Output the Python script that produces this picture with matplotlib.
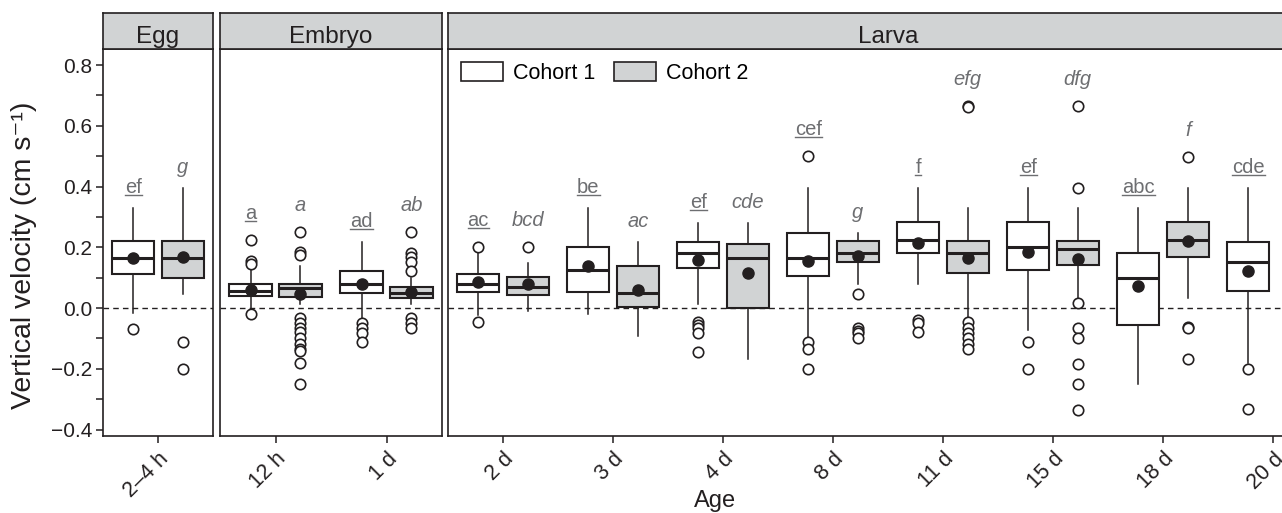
"""
Vertical velocity by age and cohort (boxplots per stage panel)
"""
import matplotlib
matplotlib.use('Agg')
import matplotlib.pyplot as plt
from matplotlib.patches import Patch
from matplotlib.lines import Line2D

plt.rcParams['font.family'] = ['Liberation Sans', 'DejaVu Sans']

# ---- data ----
ages = ['2–4 h', '12 h', '1 d', '2 d', '3 d', '4 d', '8 d', '11 d', '15 d', '18 d', '20 d']
stages = ['Egg', 'Embryo', 'Larva']
stage_counts = [1, 2, 8]

# cohort 1
c1_q1 = [0.111, 0.040, 0.050, 0.052, 0.053, 0.131, 0.106, 0.180, 0.127, -0.056, 0.056]
c1_med = [0.166, 0.057, 0.081, 0.081, 0.124, 0.182, 0.166, 0.224, 0.200, 0.098, 0.152]
c1_q3 = [0.222, 0.081, 0.122, 0.111, 0.200, 0.218, 0.248, 0.284, 0.284, 0.180, 0.218]
c1_lo = [-0.017, 0.000, -0.033, -0.023, -0.020, 0.015, -0.100, 0.079, -0.072, -0.250, -0.182]
c1_hi = [0.331, 0.130, 0.218, 0.180, 0.328, 0.281, 0.397, 0.397, 0.397, 0.328, 0.397]
c1_mean = [0.164, 0.059, 0.081, 0.087, 0.138, 0.158, 0.156, 0.215, 0.185, 0.073, 0.122]
c1_out = [[-0.070],
          [0.224, 0.156, 0.145, -0.020],
          [-0.050, -0.067, -0.083, -0.110],
          [0.200, -0.047],
          [],
          [-0.045, -0.056, -0.066, -0.083, -0.144],
          [0.500, -0.111, -0.133, -0.200],
          [-0.040, -0.050, -0.078],
          [-0.111, -0.200],
          [],
          [-0.200, -0.333]]
c1_letters = ['ef', 'a', 'ad', 'ac', 'be', 'ef', 'cef', 'f', 'ef', 'abc', 'cde']

# cohort 2 (no 20 d box)
c2_q1 = [0.098, 0.035, 0.032, 0.042, 0.004, 0.000, 0.152, 0.116, 0.142, 0.167, None]
c2_med = [0.166, 0.067, 0.050, 0.068, 0.050, 0.166, 0.182, 0.182, 0.196, 0.224, None]
c2_q3 = [0.222, 0.081, 0.068, 0.103, 0.137, 0.210, 0.220, 0.220, 0.220, 0.284, None]
c2_lo = [0.045, 0.015, 0.015, -0.010, -0.092, -0.166, 0.079, -0.033, 0.032, 0.032, None]
c2_hi = [0.397, 0.140, 0.100, 0.150, 0.218, 0.281, 0.246, 0.331, 0.328, 0.397, None]
c2_mean = [0.169, 0.046, 0.054, 0.078, 0.059, 0.114, 0.171, 0.166, 0.161, 0.222, None]
c2_out = [[-0.113, -0.200],
          [0.249, 0.184, 0.176, -0.034, -0.050, -0.067, -0.080, -0.100, -0.117, -0.133, -0.140, -0.182, -0.251],
          [0.249, 0.180, 0.167, 0.152, 0.123, -0.034, -0.050, -0.064],
          [0.200],
          [],
          [],
          [0.048, -0.067, -0.075, -0.083, -0.100],
          [0.667, 0.663, -0.045, -0.067, -0.083, -0.100, -0.117, -0.133],
          [0.667, 0.396, 0.017, -0.067, -0.097, -0.184, -0.251, -0.334],
          [0.498, -0.061, -0.067, -0.168],
          None]
c2_letters = ['g', 'a', 'ab', 'bcd', 'ac', 'cde', 'g', 'efg', 'dfg', 'f', None]

# ---- style ----
EDGE = '#231f20'
GREY = '#d1d3d4'
LETTER = '#6d6e71'
W, H = 1282, 513
OFF = 0.225
BW = 0.38
YLIM = (-0.421, 0.853)

fig = plt.figure(figsize=(W / 100, H / 100), dpi=100)

# panel extents in pixels (left, right); larva runs past the right edge like the original
panel_px = [(103, 213), (220, 442), (448, 1328)]
top_px, bot_px, strip_top = 49, 436, 13


def px_axes(l, r, t, b):
    return fig.add_axes([l / W, 1 - b / H, (r - l) / W, (b - t) / H])


def make_stats(q1, med, q3, lo, hi, mean, out):
    return dict(q1=q1, med=med, q3=q3, whislo=lo, whishi=hi, mean=mean, fliers=out)


underlined = []
start = 0
axes = []
for p, (stage, n) in enumerate(zip(stages, stage_counts)):
    l, r = panel_px[p]
    ax = px_axes(l, r, top_px, bot_px)
    axes.append(ax)
    idx = list(range(start, start + n))
    start += n

    for cohort in (1, 2):
        if cohort == 1:
            q1s, meds, q3s, los, his, means, outs, lets = c1_q1, c1_med, c1_q3, c1_lo, c1_hi, c1_mean, c1_out, c1_letters
            pos_off, fc = -OFF, 'white'
        else:
            q1s, meds, q3s, los, his, means, outs, lets = c2_q1, c2_med, c2_q3, c2_lo, c2_hi, c2_mean, c2_out, c2_letters
            pos_off, fc = OFF, GREY
        stats, positions, tops, labels = [], [], [], []
        for k, i in enumerate(idx):
            if q1s[i] is None:
                continue
            stats.append(make_stats(q1s[i], meds[i], q3s[i], los[i], his[i], means[i], outs[i]))
            positions.append(k + pos_off)
            labels.append(lets[i])
            # letters sit above the highest point (whisker or outlier)
            if outs[i] and max(outs[i]) > his[i]:
                tops.append((max(outs[i]), 21))
            else:
                tops.append((his[i], 15))
        ax.bxp(stats, positions=positions, widths=BW, patch_artist=True,
               showmeans=True, showcaps=False,
               boxprops=dict(facecolor=fc, edgecolor=EDGE, linewidth=1.5),
               medianprops=dict(color=EDGE, linewidth=2.2),
               whiskerprops=dict(color=EDGE, linewidth=1.1),
               meanprops=dict(marker='o', markerfacecolor=EDGE, markeredgecolor=EDGE, markersize=8),
               flierprops=dict(marker='o', markerfacecolor='white', markeredgecolor=EDGE,
                               markersize=7.5, markeredgewidth=1.2),
               manage_ticks=False, zorder=3)
        for x, (yt, offp), lab in zip(positions, tops, labels):
            t = ax.annotate(lab, (x, yt), xytext=(0, offp), textcoords='offset pixels',
                            ha='center', va='baseline', fontsize=14.5, color=LETTER,
                            style='normal' if cohort == 1 else 'italic')
            if cohort == 1:
                underlined.append((ax, t, x, yt, offp))

    ax.axhline(0, color=EDGE, linestyle=(0, (4, 3)), linewidth=1.0, zorder=1)
    ax.set_xlim(-0.5, n - 0.5)
    ax.set_ylim(*YLIM)
    ax.set_xticks(range(n))
    ax.set_xticklabels([ages[i] for i in idx], rotation=45, ha='right', va='top',
                       rotation_mode='anchor', fontsize=15.5, color=EDGE)
    ax.tick_params(axis='x', length=5, width=1.1, color=EDGE, pad=4)
    for s in ax.spines.values():
        s.set_color(EDGE)
        s.set_linewidth(1.2)
    if p == 0:
        yt_vals = [-0.4, -0.3, -0.2, -0.1, 0.0, 0.1, 0.2, 0.3, 0.4, 0.5, 0.6, 0.7, 0.8]
        ax.set_yticks(yt_vals)
        ax.set_yticklabels([('%.1f' % v).replace('-', '\u2212') if k % 2 == 0 else ''
                            for k, v in enumerate(yt_vals)], fontsize=15, color=EDGE)
        ax.tick_params(axis='y', length=5, width=1.1, color=EDGE, pad=3)
    else:
        ax.set_yticks([])

    # strip header
    sax = px_axes(l, r, strip_top, top_px)
    sax.set_facecolor(GREY)
    sax.set_xticks([])
    sax.set_yticks([])
    for s in sax.spines.values():
        s.set_color(EDGE)
        s.set_linewidth(1.2)
    sax.text(0.5, 0.18, stage, transform=sax.transAxes, ha='center', va='baseline',
             fontsize=17.5, color=EDGE)

# legend in larva panel
handles = [Patch(facecolor='white', edgecolor=EDGE, linewidth=1.2, label='Cohort 1'),
           Patch(facecolor=GREY, edgecolor=EDGE, linewidth=1.2, label='Cohort 2')]
axes[2].legend(handles=handles, loc='upper left', ncol=2, frameon=False, fontsize=15.5,
               handlelength=1.95, handleheight=1.0, handletextpad=0.45, columnspacing=0.9,
               borderaxespad=0.3, borderpad=0.3)

fig.text(24 / W, 1 - 255 / H, 'Vertical velocity (cm s\u207b\u00b9)', rotation=90,
         ha='center', va='center', fontsize=20.5, color=EDGE)
fig.text(715 / W, 1 - 507 / H, 'Age', ha='center', va='baseline', fontsize=17, color=EDGE)

# underline the cohort 1 letters
fig.canvas.draw()
renderer = fig.canvas.get_renderer()
for ax, t, x, yt, offp in underlined:
    bb = t.get_window_extent(renderer)
    base = ax.transData.transform((x, yt))[1] + offp - 2
    p0 = fig.transFigure.inverted().transform((bb.x0, base))
    p1 = fig.transFigure.inverted().transform((bb.x1, base))
    fig.add_artist(Line2D([p0[0], p1[0]], [p0[1], p1[1]], transform=fig.transFigure,
                          color=LETTER, linewidth=1.0))

fig.savefig('out.png', dpi=100)
